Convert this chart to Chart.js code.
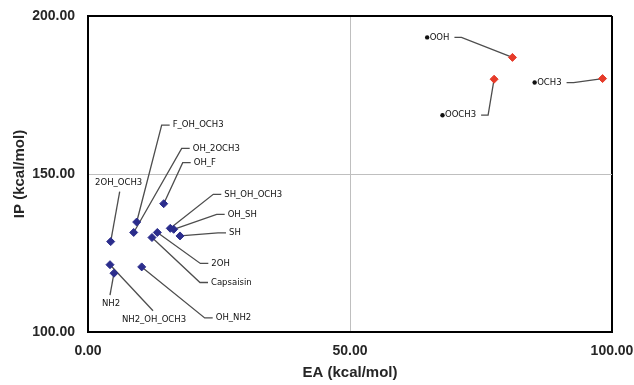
<!DOCTYPE html>
<html>
<head>
<meta charset="utf-8">
<script src="https://cdn.jsdelivr.net/npm/chart.js@4/dist/chart.umd.min.js"></script>
<style>
  body { margin: 0; background: #fff; }
  #wrap { width: 634px; height: 385px; }
</style>
</head>
<body>
<div id="wrap"><canvas id="chart" width="634" height="385"></canvas></div>
<script>
// substituents in the lower-left cluster
const blueNames = ['2OH_OCH3', 'F_OH_OCH3', 'OH_2OCH3', 'OH_F', 'SH_OH_OCH3', 'OH_SH',
                   'SH', '2OH', 'Capsaisin', 'NH2_OH_OCH3', 'NH2', 'OH_NH2'];
const blueEA = [4.33, 9.29, 8.72, 14.45, 15.7, 16.35, 17.56, 13.23, 12.21, 4.2, 4.96, 10.25];
const blueIP = [128.6, 134.8, 131.5, 140.6, 132.8, 132.5, 130.4, 131.5, 129.9, 121.3, 118.6, 120.6];

// substituents in the upper-right corner
const redNames = ['OOH', 'OOCH3', 'OCH3'];
const redEA = [81.0, 77.5, 98.2];
const redIP = [186.9, 180.0, 180.2];

const xTicks = [0, 50, 100];
const yTicks = [100, 150, 200];

// where each label sits relative to its marker (px) and how it hangs off the leader line
const blueLabelPos = [[9, -50, 'U'], [25, -97, 'R'], [48, -84, 'R'], [19, -41, 'R'], [43, -34, 'R'],
                      [43, -15, 'R'], [38, -3, 'R'], [43, 31, 'R'], [48, 45, 'R'], [43, 46, 'D'],
                      [-4, 22, 'D'], [63, 51, 'R']];
const redLabelPos = [[-51, -20, 'L'], [-6, 36, 'L'], [-29, 4, 'L']];

const toPoints = (xs, ys) => xs.map((x, i) => ({x: x, y: ys[i]}));

const leaderLabels = {
    id: 'leaderLabels',
    beforeDatasetsDraw(chart) {
        const ctx = chart.ctx;
        ctx.save();
        ctx.font = '8.5px "DejaVu Sans"';
        ctx.textBaseline = 'middle';
        chart.data.datasets.forEach((ds, di) => {
            const meta = chart.getDatasetMeta(di);
            meta.data.forEach((pt, i) => {
                const [dx, dy, mode] = ds.labelPos[i];
                const kx = pt.x + dx, ky = pt.y + dy;
                ctx.strokeStyle = '#4d4d4d';
                ctx.lineWidth = 1.3;
                ctx.beginPath();
                ctx.moveTo(pt.x, pt.y);
                ctx.lineTo(kx, ky);
                if (mode === 'R') ctx.lineTo(kx + 8, ky);
                if (mode === 'L') ctx.lineTo(kx - 7, ky);
                ctx.stroke();
                ctx.fillStyle = '#111';
                const name = ds.names[i];
                if (mode === 'R') {
                    ctx.textAlign = 'left';
                    ctx.fillText(name, kx + 11, ky);
                } else if (mode === 'L') {
                    ctx.textAlign = 'right';
                    ctx.fillText(name, kx - 12, ky);
                    const w = ctx.measureText(name).width;
                    ctx.beginPath();
                    ctx.arc(kx - 12 - w - 2.5, ky, 2.2, 0, Math.PI * 2);
                    ctx.fill();
                } else if (mode === 'U') {
                    ctx.textAlign = 'center';
                    ctx.fillText(name, kx - 1, ky - 9);
                } else {
                    ctx.textAlign = 'center';
                    ctx.fillText(name, kx + 1, ky + 9);
                }
            });
        });
        ctx.restore();
    }
};

const edgeColor = (edge) => (c) => {
    const v = c.tick.value;
    if (v === edge) return '#000';
    if (v === 50 || v === 150) return '#bfbfbf';
    return 'rgba(0,0,0,0)';
};
const edgeWidth = (edge) => (c) => c.tick.value === edge ? 2 : 1;

new Chart(document.getElementById('chart'), {
    type: 'scatter',
    data: {
        datasets: [{
            data: toPoints(blueEA, blueIP),
            names: blueNames,
            labelPos: blueLabelPos,
            pointStyle: 'rectRot',
            pointRadius: 4,
            pointBackgroundColor: '#2b2d8c',
            pointBorderColor: '#2b2d8c',
            pointBorderWidth: 1,
        }, {
            data: toPoints(redEA, redIP),
            names: redNames,
            labelPos: redLabelPos,
            pointStyle: 'rectRot',
            pointRadius: 4,
            pointBackgroundColor: '#e63b2a',
            pointBorderColor: '#e63b2a',
            pointBorderWidth: 1,
        }]
    },
    options: {
        responsive: false,
        animation: false,
        events: [],
        layout: { padding: { top: 16, right: 22, left: 0, bottom: 0 } },
        plugins: { legend: { display: false }, tooltip: { enabled: false } },
        scales: {
            x: {
                type: 'linear',
                min: 0, max: 100,
                afterBuildTicks: (s) => { s.ticks = xTicks.map(v => ({value: v})); },
                afterFit: (s) => { s.height = 53; s.paddingLeft = 0; s.paddingRight = 0; },
                grid: { color: edgeColor(100), lineWidth: edgeWidth(100), drawTicks: false },
                border: { display: true, color: '#000', width: 2 },
                ticks: {
                    padding: 11,
                    maxRotation: 0,
                    color: '#262626',
                    font: { family: '"Liberation Sans"', size: 14, weight: 'bold' },
                    callback: (v) => Number(v).toFixed(2)
                },
                title: {
                    display: true,
                    text: 'EA (kcal/mol)',
                    color: '#262626',
                    font: { family: '"Liberation Sans"', size: 15, weight: 'bold' },
                    padding: { top: 0, bottom: 3 }
                }
            },
            y: {
                type: 'linear',
                min: 100, max: 200,
                afterBuildTicks: (s) => { s.ticks = yTicks.map(v => ({value: v})); },
                afterFit: (s) => { s.width = 88; s.paddingTop = 0; s.paddingBottom = 0; },
                grid: { color: edgeColor(200), lineWidth: edgeWidth(200), drawTicks: false },
                border: { display: true, color: '#000', width: 2 },
                ticks: {
                    padding: 13,
                    color: '#262626',
                    font: { family: '"Liberation Sans"', size: 14, weight: 'bold' },
                    callback: (v) => Number(v).toFixed(2)
                },
                title: {
                    display: true,
                    text: 'IP (kcal/mol)',
                    color: '#262626',
                    font: { family: '"Liberation Sans"', size: 15, weight: 'bold' },
                    padding: { top: 11, bottom: 0 }
                }
            }
        }
    },
    plugins: [leaderLabels]
});
</script>
</body>
</html>
